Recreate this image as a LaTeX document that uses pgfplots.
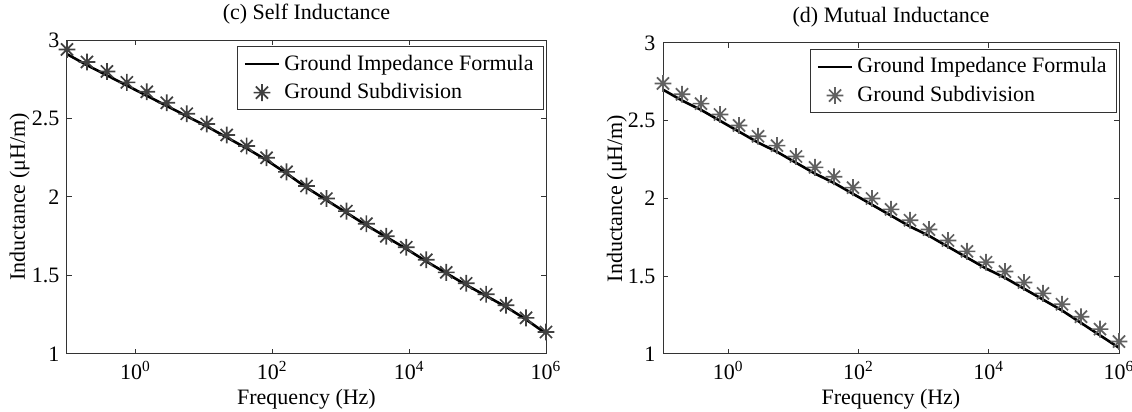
\documentclass[border=0pt]{standalone}
\usepackage{fontspec}
\setmainfont{Liberation Serif}
\usepackage{pgfplots}
\usepackage{pgfplotstable}
\pgfplotsset{compat=1.18}

% MATLAB-like asterisk: plus and cross together
\pgfdeclareplotmark{mstar}{%
  \pgfpathmoveto{\pgfqpoint{-\pgfplotmarksize}{0pt}}\pgfpathlineto{\pgfqpoint{\pgfplotmarksize}{0pt}}%
  \pgfpathmoveto{\pgfqpoint{0pt}{-\pgfplotmarksize}}\pgfpathlineto{\pgfqpoint{0pt}{\pgfplotmarksize}}%
  \pgfpathmoveto{\pgfqpoint{-0.72\pgfplotmarksize}{-0.72\pgfplotmarksize}}\pgfpathlineto{\pgfqpoint{0.72\pgfplotmarksize}{0.72\pgfplotmarksize}}%
  \pgfpathmoveto{\pgfqpoint{-0.72\pgfplotmarksize}{0.72\pgfplotmarksize}}\pgfpathlineto{\pgfqpoint{0.72\pgfplotmarksize}{-0.72\pgfplotmarksize}}%
  \pgfusepathqstroke}

% f (Hz), subdivision, formula
\pgfplotstableread{
f        sub    formula
0.1      2.94   2.91
0.19573  2.86   2.84
0.38312  2.80   2.775
0.74989  2.73   2.71
1.4678   2.67   2.645
2.8730   2.60   2.58
5.6234   2.53   2.515
11.007   2.465  2.45
21.544   2.395  2.38
42.170   2.325  2.31
82.540   2.25   2.235
161.56   2.16   2.15
316.23   2.07   2.06
618.97   1.99   1.98
1211.5   1.91   1.90
2371.4   1.83   1.82
4641.6   1.75   1.745
9085.2   1.68   1.67
17783    1.60   1.59
34807    1.52   1.515
68129    1.45   1.44
133352   1.38   1.37
261016   1.31   1.30
510897   1.23   1.22
1000000  1.14   1.13
}\selfind

\pgfplotstableread{
f        sub    formula
0.1      2.74   2.70
0.19573  2.67   2.63
0.38312  2.61   2.57
0.74989  2.54   2.50
1.4678   2.47   2.43
2.8730   2.40   2.36
5.6234   2.34   2.30
11.007   2.27   2.23
21.544   2.20   2.16
42.170   2.14   2.10
82.540   2.07   2.03
161.56   2.00   1.96
316.23   1.93   1.89
618.97   1.86   1.82
1211.5   1.80   1.76
2371.4   1.73   1.69
4641.6   1.66   1.62
9085.2   1.59   1.55
17783    1.53   1.49
34807    1.46   1.42
68129    1.39   1.35
133352   1.32   1.28
261016   1.24   1.20
510897   1.16   1.12
1000000  1.08   1.04
}\mutind

\pgfplotsset{
  indfig/.style={
    scale only axis, xmin=0.1, xmax=1e6, ymin=1, ymax=3,
    xtick={1,100,10000,1000000},
    xticklabels={10\textsuperscript{0},10\textsuperscript{2},10\textsuperscript{4},10\textsuperscript{6}},
    ytick={1,1.5,2,2.5,3}, yticklabels={1,1.5,2,2.5,3},
    minor tick style={draw=none},
    tick align=inside, major tick length=2.5pt,
    axis line style={black!80, line width=0.5pt},
    every tick/.style={black!80, line width=0.5pt},
    xlabel={Frequency (Hz)}, ylabel={Inductance (μH/m)},
    xlabel style={at={(axis description cs:0.5,-0.145)}, anchor=center},
    title style={at={(axis description cs:0.5,1.083)}, anchor=center, yshift=-6pt},
    legend style={at={(rel axis cs:0.996,0.98)}, anchor=north east,
      draw=black!80, line width=0.5pt, cells={anchor=west}, row sep=1pt,
      inner xsep=3pt, inner ysep=2pt},
  },
  formula/.style={black, line width=1.3pt, no markers},
}

\begin{document}
\fontsize{11}{13}\selectfont
\begin{tikzpicture}
\path[use as bounding box] (-33.5pt,-29pt) rectangle (532.5pt,177pt);

\begin{axis}[xmode=log, indfig, at={(0pt,0pt)}, anchor=south west,
    width=239.5pt, height=157pt,
    title={(c) Self Inductance},
    ylabel style={at={(axis description cs:-0.099,0.5)}, anchor=center}]
\addplot[formula] table[x=f, y=formula] {\selfind};
\addplot[only marks, mark=mstar, mark size=4.2pt, draw=black!75, line width=0.85pt] table[x=f, y=sub] {\selfind};
\legend{Ground Impedance Formula, Ground Subdivision}
\end{axis}

\begin{axis}[xmode=log, indfig, at={(298pt,0pt)}, anchor=south west,
    width=228pt, height=155.5pt,
    title={(d) Mutual Inductance},
    ylabel style={at={(axis description cs:-0.101,0.5)}, anchor=center}]
\addplot[formula] table[x=f, y=formula] {\mutind};
\addplot[only marks, mark=mstar, mark size=4.2pt, draw=black!62, line width=0.85pt] table[x=f, y=sub] {\mutind};
\legend{Ground Impedance Formula, Ground Subdivision}
\end{axis}
\end{tikzpicture}
\end{document}
